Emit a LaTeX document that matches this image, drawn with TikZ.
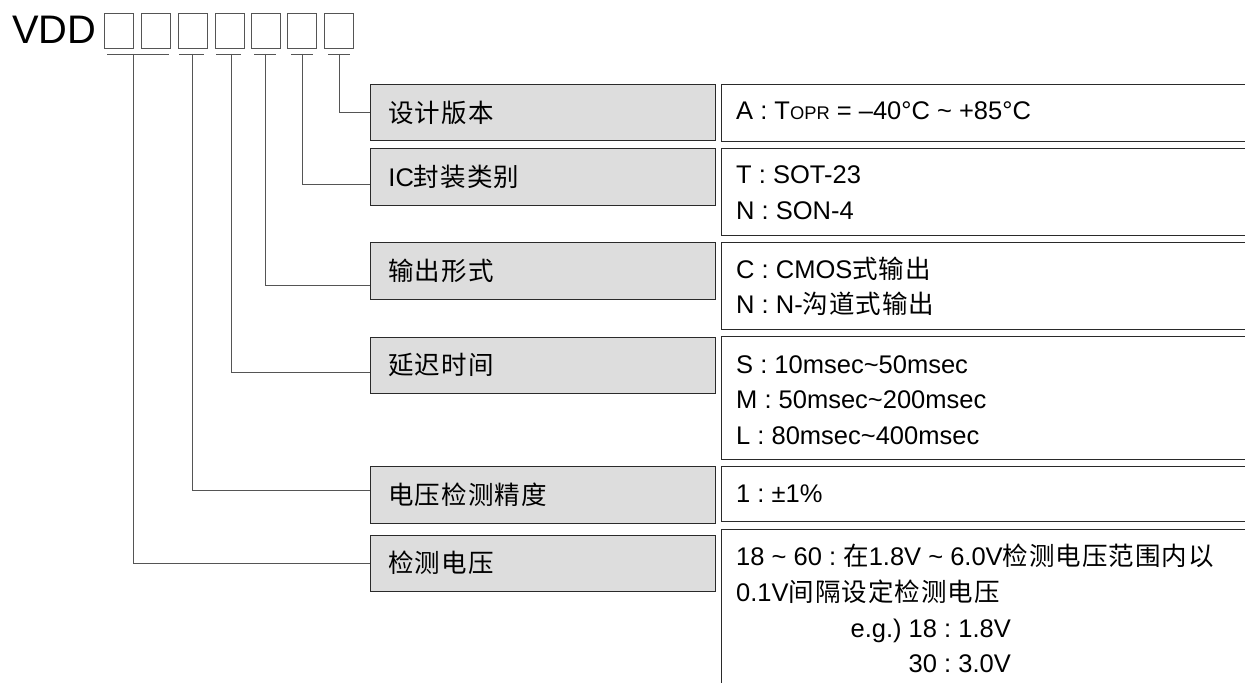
\documentclass[tikz,border=0pt]{standalone}
\usepackage{fontspec}
\setmainfont{Liberation Sans}
\newfontfamily\cjk[LetterSpace=4]{Noto Sans CJK SC}
\newcommand\zh[1]{{\cjk #1}}
\newcommand\tld{\textasciitilde}
\definecolor{gfill}{HTML}{DDDDDD}
\definecolor{edge}{HTML}{2A2A2A}
\definecolor{wire}{HTML}{555555}
\tikzset{
  sq/.style={draw=wire, line width=0.9bp, minimum width=29bp, minimum height=35bp, inner sep=0pt, anchor=north west},
  conn/.style={draw=wire, line width=0.9bp},
  gbox/.style={draw=edge, fill=gfill, line width=0.9bp, minimum width=345bp, minimum height=56.5bp,
    inner xsep=18bp, inner ysep=0pt, text width=309bp, align=left, anchor=north west},
  wbox/.style={draw=edge, line width=0.9bp, minimum width=560bp, inner sep=0pt, anchor=north west},
  tx/.style={anchor=base west, inner sep=0pt},
  txr/.style={anchor=base east, inner sep=0pt},
}
\begin{document}
\begin{tikzpicture}[x=1bp, y=-1bp, font=\fontsize{25.6}{30}\selectfont\frenchspacing]
\useasboundingbox (0,0) rectangle (1245,683);
\clip (0,0) rectangle (1245,683);

% header
\node[anchor=base west, inner sep=0pt, font=\fontsize{40}{40}\selectfont] (vdd) at (12,44) {VDD};
\node[sq] (s1) at (104,13) {};
\node[sq] (s2) at (141,13) {};
\node[sq] (s3) at (178,13) {};
\node[sq] (s4) at (215,13) {};
\node[sq] (s5) at (251,13) {};
\node[sq] (s6) at (287,13) {};
\node[sq] (s7) at (324,13) {};

% underlines
\coordinate (u1a) at (107,54); \coordinate (u1b) at (169,54);
\coordinate (u2a) at (179,54); \coordinate (u2b) at (204,54);
\coordinate (u3a) at (216,54); \coordinate (u3b) at (241,54);
\coordinate (u4a) at (254,54); \coordinate (u4b) at (276,54);
\coordinate (u5a) at (291,54); \coordinate (u5b) at (313,54);
\coordinate (u6a) at (328,54); \coordinate (u6b) at (350,54);
\foreach \i in {1,...,6} {\draw[conn] (u\i a) -- (u\i b);}

\coordinate (k1) at (133,54);
\coordinate (k2) at (192,54);
\coordinate (k3) at (231,54);
\coordinate (k4) at (265,54);
\coordinate (k5) at (302,54);
\coordinate (k6) at (339,54);

% gray label boxes
\node[gbox] (g1) at (370,84)    {\zh{设计版本}};
\node[gbox] (g2) at (370,148)   {IC\zh{封装类别}};
\node[gbox] (g3) at (370,242)   {\zh{输出形式}};
\node[gbox] (g4) at (370,336.5) {\zh{延迟时间}};
\node[gbox] (g5) at (370,466)   {\zh{电压检测精度}};
\node[gbox] (g6) at (370,534.5) {\zh{检测电压}};

% connectors
\draw[conn] (k6) |- (g1.west);
\draw[conn] (k5) |- ([yshift=-8bp]g2.west);
\draw[conn] (k4) |- ([yshift=-15bp]g3.west);
\draw[conn] (k3) |- ([yshift=-7.5bp]g4.west);
\draw[conn] (k2) |- ([yshift=4bp]g5.west);
\draw[conn] (k1) |- (g6.west);

% white value boxes
\node[wbox, minimum height=57bp]  (w1) at (721,84)  {};
\node[wbox, minimum height=87bp]  (w2) at (721,148) {};
\node[wbox, minimum height=87bp]  (w3) at (721,242) {};
\node[wbox, minimum height=123bp] (w4) at (721,336) {};
\node[wbox, minimum height=55bp]  (w5) at (721,466) {};
\node[wbox, minimum height=200bp] (w6) at (721,529) {};

% values
\node[tx] (a1) at (736,120) {A : T{\fontsize{18.4}{18}\selectfont OPR} = –40°C \tld{} +85°C};
\node[tx] (b1) at (736,184) {T : SOT-23};
\node[tx] (b2) at (736,219.5) {N : SON-4};
\node[tx] (c1) at (736,278.5) {C : CMOS\zh{式输出}};
\node[tx] (c2) at (736,313.5) {N : N-\zh{沟道式输出}};
\node[tx] (d1) at (736,373) {S : 10msec\tld{}50msec};
\node[tx] (d2) at (736,408.5) {M : 50msec\tld{}200msec};
\node[tx] (d3) at (736,444) {L : 80msec\tld{}400msec};
\node[tx] (e1) at (736,502) {1 : ±1\%};
\node[tx] (f1) at (736,565.5) {18 \tld{} 60 : \zh{在}1.8V \tld{} 6.0V\zh{检测电压范围内以}};
\node[tx] (f2) at (736,601.5) {0.1V\zh{间隔设定检测电压}};
\node[txr] (f3) at (1011,637.5) {e.g.) 18 : 1.8V};
\node[txr] (f4) at (1011,672.5) {30 : 3.0V};
\end{tikzpicture}
\end{document}
